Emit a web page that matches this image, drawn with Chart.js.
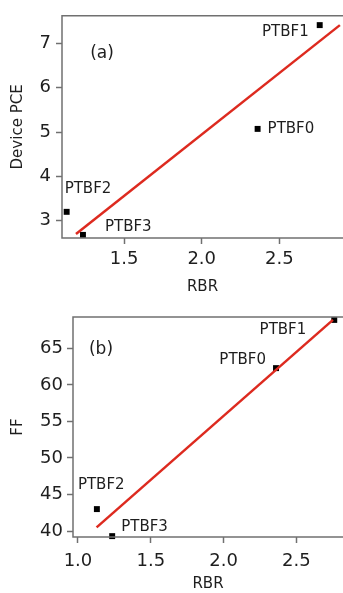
<!DOCTYPE html>
<html>
<head>
<meta charset="utf-8">
<script src="https://cdn.jsdelivr.net/npm/chart.js@4.4.1/dist/chart.umd.min.js"></script>
<style>
  html, body { margin: 0; padding: 0; background: #fff; }
  .panel { position: absolute; left: 0; }
  #wrapA { top: 0; }
  #wrapB { top: 296px; }
</style>
</head>
<body>
<div class="panel" id="wrapA"><canvas id="pce" width="343" height="296"></canvas></div>
<div class="panel" id="wrapB"><canvas id="ff" width="343" height="297"></canvas></div>
<script>
// polymers and their measured values
const samples = ["PTBF0", "PTBF1", "PTBF2", "PTBF3"];
const rbr = [2.36, 2.76, 1.13, 1.235];
const pce = [5.07, 7.41, 3.2, 2.68];
const ff = [62.3, 68.9, 43.0, 39.3];

// linear fits, as end points
const pceFitX = [1.19, 2.89];
const pceFitY = [2.70, 7.41];
const ffFitX = [1.128, 2.751];
const ffFitY = [40.5, 68.9];

// tick values
const pceXTicks = [1.5, 2.0, 2.5];
const pceYTicks = [3, 4, 5, 6, 7];
const ffXTicks = [1.0, 1.5, 2.0, 2.5];
const ffYTicks = [40, 45, 50, 55, 60, 65];

const FONT = "'DejaVu Sans', Verdana, sans-serif";
const INK = "#1e1e1e";
const AXIS = "#707070";
const RED = "#dd2a1f";

// label offsets from each point [dx, dy], with text alignment
const pceTags = [[10, 0, "left"], [-11, 7, "right"], [-2, -23, "left"], [22, -8, "left"]];
const ffTags = [[-10, -8, "right"], [-28, 10, "right"], [-19, -24, "left"], [9, -9, "left"]];

const toPoints = (xs, ys) => xs.map((x, i) => ({ x, y: ys[i] }));

// open box: top, left and bottom edges (the right edge runs off the canvas)
const frame = {
  id: "frame",
  afterDraw(chart) {
    const { ctx, chartArea: a } = chart;
    ctx.save();
    ctx.strokeStyle = AXIS;
    ctx.lineWidth = 1.5;
    ctx.beginPath();
    ctx.moveTo(a.right, a.top);
    ctx.lineTo(a.left, a.top);
    ctx.lineTo(a.left, a.bottom);
    ctx.lineTo(a.right, a.bottom);
    ctx.stroke();
    ctx.restore();
  },
};

// sample names beside the points, plus the panel letter
const tags = {
  id: "tags",
  afterDatasetsDraw(chart, args, opts) {
    const { ctx, chartArea: a } = chart;
    const meta = chart.getDatasetMeta(1);
    ctx.save();
    ctx.fillStyle = INK;
    ctx.textBaseline = "middle";
    ctx.font = "15px " + FONT;
    meta.data.forEach((pt, i) => {
      const [dx, dy, align] = opts.offsets[i];
      ctx.textAlign = align;
      ctx.fillText(samples[i], pt.x + dx, pt.y + dy);
    });
    ctx.font = "17px " + FONT;
    ctx.textAlign = "center";
    ctx.fillText(opts.panel, a.left + opts.panelAt[0], a.top + opts.panelAt[1]);
    ctx.restore();
  },
};

function axis(opts) {
  return {
    type: "linear",
    min: opts.min,
    max: opts.max,
    afterBuildTicks: (s) => { s.ticks = opts.ticks.map((v) => ({ value: v })); },
    afterFit: (s) => { if (opts.width) s.width = opts.width; if (opts.height) s.height = opts.height; },
    grid: { drawOnChartArea: false, drawTicks: true, tickLength: 6, tickWidth: 1.5, color: AXIS },
    border: { display: false },
    ticks: {
      color: INK,
      padding: opts.pad,
      font: { family: FONT, size: 18 },
      callback: opts.fmt,
      maxRotation: 0,
      autoSkip: false,
    },
    title: {
      display: true,
      text: opts.title,
      color: INK,
      font: { family: FONT, size: 15 },
      padding: { top: opts.titlePad, bottom: 0 },
    },
  };
}

function panel(id, cfg) {
  new Chart(document.getElementById(id), {
    type: "scatter",
    data: {
      datasets: [
        {
          type: "line",
          data: toPoints(cfg.fitX, cfg.fitY),
          borderColor: RED,
          borderWidth: 2.5,
          pointRadius: 0,
          fill: false,
        },
        {
          data: toPoints(rbr, cfg.y),
          pointStyle: "rect",
          pointRadius: 4.2,
          backgroundColor: "#000",
          borderWidth: 0,
          clip: false,
        },
      ],
    },
    options: {
      responsive: false,
      animation: false,
      layout: { autoPadding: false, padding: { left: 0, right: 0, top: cfg.top, bottom: 0 } },
      plugins: {
        legend: { display: false },
        tooltip: { enabled: false },
        tags: { offsets: cfg.tags, panel: cfg.panel, panelAt: cfg.panelAt },
      },
      scales: {
        x: axis({ ...cfg.x, title: "RBR", fmt: (v) => v.toFixed(1) }),
        y: axis({ ...cfg.y2, title: cfg.yTitle, fmt: (v) => String(v) }),
      },
    },
    plugins: [frame, tags],
  });
}

panel("pce", {
  y: pce,
  fitX: pceFitX,
  fitY: pceFitY,
  top: 14,
  tags: pceTags,
  panel: "(a)",
  panelAt: [40, 38],
  yTitle: "Device PCE",
  x: { min: 1.10, max: 2.91, ticks: pceXTicks, height: 58, pad: 5, titlePad: 0 },
  y2: { min: 2.61, max: 7.62, ticks: pceYTicks, width: 62, pad: 5, titlePad: 9 },
});

panel("ff", {
  y: ff,
  fitX: ffFitX,
  fitY: ffFitY,
  top: 21,
  tags: ffTags,
  panel: "(b)",
  panelAt: [28, 33],
  yTitle: "FF",
  x: { min: 0.966, max: 2.82, ticks: ffXTicks, height: 56, pad: 8, titlePad: 0 },
  y2: { min: 39.18, max: 69.3, ticks: ffYTicks, width: 73, pad: 4, titlePad: 9 },
});
</script>
</body>
</html>
